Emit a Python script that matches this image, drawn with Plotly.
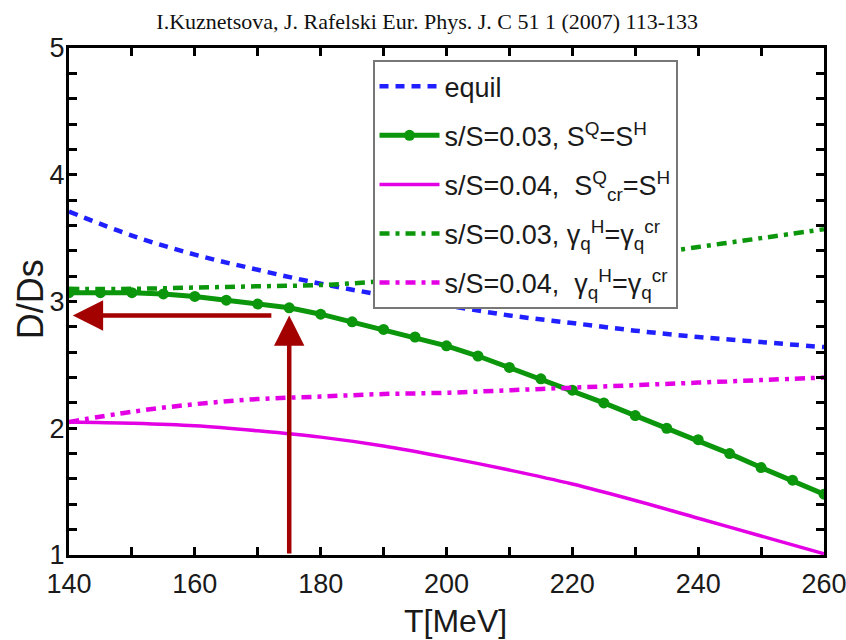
import plotly.graph_objects as go

# Temperature grids (MeV)
T_coarse = [140, 150, 160, 170, 180, 190, 200, 210, 220, 230, 240, 250, 260]
T_fine = [140, 145, 150, 155, 160, 165, 170, 175, 180, 185, 190, 195, 200,
          205, 210, 215, 220, 225, 230, 235, 240, 245, 250, 255, 260]

# D/Ds ratio for each scenario
equil = [3.71, 3.52, 3.37, 3.25, 3.14, 3.05, 2.97, 2.89, 2.83, 2.77, 2.72, 2.68, 2.64]
s003_entropy = [3.07, 3.07, 3.07, 3.06, 3.04, 3.01, 2.98, 2.95, 2.90, 2.84,
                2.78, 2.72, 2.65, 2.57, 2.48, 2.39, 2.30, 2.20, 2.10, 2.00,
                1.91, 1.80, 1.69, 1.59, 1.48]
s004_entropy = [2.05, 2.04, 2.02, 1.98, 1.93, 1.86, 1.77, 1.67, 1.56, 1.43, 1.29, 1.15, 1.01]
s003_gamma = [3.10, 3.10, 3.11, 3.12, 3.13, 3.16, 3.20, 3.25, 3.30, 3.36, 3.43, 3.50, 3.57]
s004_gamma = [2.05, 2.13, 2.19, 2.23, 2.25, 2.27, 2.28, 2.30, 2.32, 2.34, 2.36, 2.38, 2.40]

# Reading of the hadronization point
T_read = 175
D_read = 2.89

title_text = "I.Kuznetsova, J. Rafelski Eur. Phys. J. C 51 1 (2007) 113-133"
x_title = "T[MeV]"
y_title = "D/Ds"
names = [
    "equil",
    "s/S=0.03, S<sup>Q</sup>=S<sup>H</sup>",
    "s/S=0.04,  S<sup>Q</sup><sub>cr</sub>=S<sup>H</sup>",
    "s/S=0.03, γ<sub>q</sub><sup>H</sup>=γ<sub>q</sub><sup>cr</sup>",
    "s/S=0.04,  γ<sub>q</sub><sup>H</sup>=γ<sub>q</sub><sup>cr</sup>",
]

BLUE = "#1f1fff"
GREEN = "#0b960b"
MAGENTA = "#e400e4"
ARROW = "#a30000"
SANS = "Liberation Sans, Arial, sans-serif"
INK = "#1a1a1a"

fig = go.Figure()
fig.add_trace(go.Scatter(x=T_coarse, y=equil, mode="lines", name=names[0],
                         line=dict(color=BLUE, width=4.5, dash="9px,7px", shape="spline"),
                         legendgroup="a"))
fig.add_trace(go.Scatter(x=T_fine, y=s003_entropy, mode="lines+markers", name=names[1],
                         line=dict(color=GREEN, width=5),
                         marker=dict(color=GREEN, size=11),
                         legendgroup="b"))
fig.add_trace(go.Scatter(x=T_coarse, y=s004_entropy, mode="lines", name=names[2],
                         line=dict(color=MAGENTA, width=3.5, shape="spline"),
                         legendgroup="c"))
fig.add_trace(go.Scatter(x=T_coarse, y=s003_gamma, mode="lines", name=names[3],
                         line=dict(color=GREEN, width=4.5, dash="10px,6px,4px,6px", shape="spline"),
                         legendgroup="d"))
fig.add_trace(go.Scatter(x=T_coarse, y=s004_gamma, mode="lines", name=names[4],
                         line=dict(color=MAGENTA, width=4.5, dash="10px,6px,4px,6px", shape="spline"),
                         legendgroup="e"))

# Arrows marking the reading at T_read
fig.add_annotation(x=T_read, y=D_read, ax=T_read, ay=1.0, xref="x", yref="y",
                   axref="x", ayref="y", showarrow=True, arrowhead=2, arrowsize=1.35,
                   arrowwidth=4.5, arrowcolor=ARROW, text="", standoff=0, startstandoff=0)
fig.add_annotation(x=140.6, y=D_read, ax=T_read - 2.6, ay=D_read, xref="x", yref="y",
                   axref="x", ayref="y", showarrow=True, arrowhead=2, arrowsize=1.35,
                   arrowwidth=4.5, arrowcolor=ARROW, text="")

# Axis titles placed below / left of the frame
fig.add_annotation(text=x_title, xref="paper", yref="paper", x=0.512, y=-0.168,
                   xanchor="center", yanchor="bottom", showarrow=False, borderpad=0,
                   font=dict(family=SANS, size=32, color=INK))
fig.add_annotation(text=y_title, xref="paper", yref="paper", x=-0.05, y=0.505,
                   xanchor="center", yanchor="middle", textangle=-90, showarrow=False,
                   font=dict(family=SANS, size=36, color=INK))

tick_style = dict(ticks="inside", ticklen=8, tickwidth=2.5, tickcolor="black")
axis_common = dict(
    showline=True, linecolor="black", linewidth=3, mirror=True,
    showgrid=False, zeroline=False, automargin=False,
    ticklabeloverflow="allow",
    tickfont=dict(family=SANS, size=27, color=INK),
    **tick_style,
)

fig.update_layout(
    xaxis=dict(range=[140, 260], dtick=20, tick0=140,
               minor=dict(dtick=10, **tick_style),
               ticklabelstandoff=3,
               **axis_common),
    yaxis=dict(range=[1, 5], dtick=1, tick0=1,
               minor=dict(dtick=0.2, **tick_style),
               ticklabelstandoff=-4,
               **axis_common),
    # tick marks along the top and right edges of the frame
    xaxis2=dict(overlaying="x", side="top", range=[140, 260], dtick=10, tick0=140,
                showticklabels=False, showgrid=False, zeroline=False, automargin=False,
                **tick_style),
    yaxis2=dict(overlaying="y", side="right", range=[1, 5], dtick=0.2, tick0=1,
                showticklabels=False, showgrid=False, zeroline=False, automargin=False,
                **tick_style),
    width=846, height=640,
    margin=dict(l=69, r=22, t=48, b=85),
    paper_bgcolor="white", plot_bgcolor="white",
    title=dict(text=title_text, x=0.505, xanchor="center", y=0.966, yanchor="middle",
               font=dict(family="Liberation Serif, Times New Roman, serif", size=22, color="#111111")),
    legend=dict(x=0.402, y=0.976, xanchor="left", yanchor="top",
                bgcolor="white", bordercolor="#777777", borderwidth=2,
                font=dict(family=SANS, size=27, color=INK),
                tracegroupgap=11, itemwidth=60),
    showlegend=True,
)

# invisible trace to activate the mirrored tick axes
fig.add_trace(go.Scatter(x=[140], y=[1], xaxis="x2", yaxis="y2", mode="markers",
                         marker=dict(opacity=0), showlegend=False, hoverinfo="skip"))

fig.write_html("out.html")
